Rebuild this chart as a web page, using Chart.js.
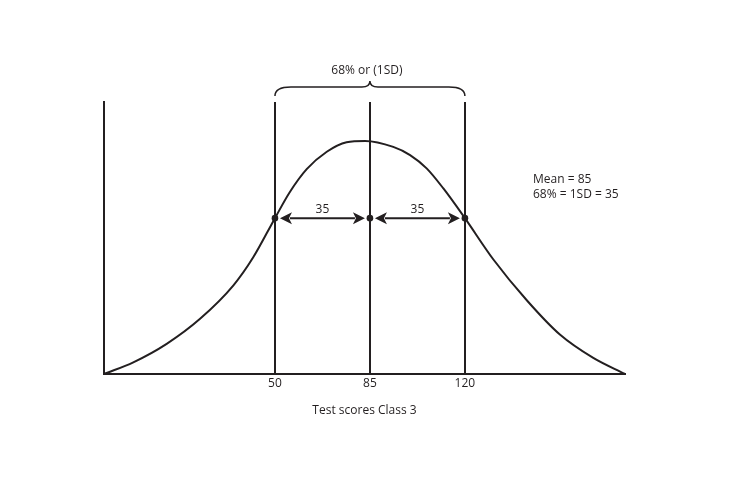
<!DOCTYPE html>
<html>
<head>
<meta charset="utf-8">
<script src="https://cdn.jsdelivr.net/npm/chart.js@4"></script>
<style>
  html, body { margin: 0; padding: 0; background: #ffffff; }
  #wrap { width: 750px; height: 500px; position: relative; }
</style>
</head>
<body>
<div id="wrap"><canvas id="c" width="750" height="500"></canvas></div>
<script>
// ---- data ----
const scoreX  = [-13, -2.2, 10.1, 22.4, 34.7, 42.0, 50, 55.5, 61.7, 69.1, 76.4, 83.2, 93.6, 99.8, 105.9, 112, 120, 130.5, 142.8, 155, 167.3, 179];
const density = [0, 4.3, 11.1, 20.3, 32.6, 42.9, 57.3, 66.9, 75.3, 81.7, 85.2, 85.7, 83.5, 80.5, 75.6, 68.3, 57.3, 42.1, 27.1, 14.5, 5.9, 0];
const tickValues = [50, 85, 120];
const markerX = [50, 85, 120];
const markerY = [57.3, 57.3, 57.3];
const spanLabels = ['35', '35'];
const braceLabel = '68% or (1SD)';
const infoLines = ['Mean = 85', '68% = 1SD = 35'];
const axisTitle = 'Test scores Class 3';

const INK = '#231f20';
const FONT = '"Open Sans", "Noto Sans", sans-serif';

const annotations = {
  id: 'annotations',
  beforeDatasetsDraw(chart) {
    const {ctx, chartArea, scales: {x}} = chart;
    ctx.save();
    ctx.strokeStyle = INK;
    ctx.lineWidth = 2;
    markerX.forEach(v => {
      const px = Math.round(x.getPixelForValue(v));
      ctx.beginPath();
      ctx.moveTo(px, chartArea.top);
      ctx.lineTo(px, chartArea.bottom);
      ctx.stroke();
    });
    ctx.restore();
  },
  afterDatasetsDraw(chart) {
    const {ctx, chartArea, scales: {x, y}} = chart;
    ctx.save();
    ctx.strokeStyle = INK;
    ctx.fillStyle = INK;
    const ay = y.getPixelForValue(markerY[0]);
    const gap = 5, headL = 12, headW = 6;
    for (let i = 0; i < markerX.length - 1; i++) {
      const x1 = x.getPixelForValue(markerX[i]) + gap;
      const x2 = x.getPixelForValue(markerX[i + 1]) - gap;
      ctx.lineWidth = 2;
      ctx.beginPath();
      ctx.moveTo(x1 + headL - 2, ay);
      ctx.lineTo(x2 - headL + 2, ay);
      ctx.stroke();
      ctx.beginPath();
      ctx.moveTo(x1, ay);
      ctx.lineTo(x1 + headL, ay - headW);
      ctx.lineTo(x1 + headL - 3, ay);
      ctx.lineTo(x1 + headL, ay + headW);
      ctx.closePath();
      ctx.fill();
      ctx.beginPath();
      ctx.moveTo(x2, ay);
      ctx.lineTo(x2 - headL, ay - headW);
      ctx.lineTo(x2 - headL + 3, ay);
      ctx.lineTo(x2 - headL, ay + headW);
      ctx.closePath();
      ctx.fill();
      ctx.font = '12px ' + FONT;
      ctx.textAlign = 'center';
      ctx.textBaseline = 'middle';
      ctx.fillText(spanLabels[i], (x1 + x2) / 2, ay - 9);
    }
    const bx1 = x.getPixelForValue(markerX[0]);
    const bx2 = x.getPixelForValue(markerX[2]);
    const bxm = x.getPixelForValue(markerX[1]);
    const yEnd = chartArea.top - 6, yLine = chartArea.top - 15, yTip = chartArea.top - 21;
    ctx.lineWidth = 1.5;
    ctx.beginPath();
    ctx.moveTo(bx1, yEnd);
    ctx.quadraticCurveTo(bx1, yLine, bx1 + 16, yLine);
    ctx.lineTo(bxm - 8, yLine);
    ctx.quadraticCurveTo(bxm, yLine, bxm, yTip);
    ctx.quadraticCurveTo(bxm, yLine, bxm + 8, yLine);
    ctx.lineTo(bx2 - 16, yLine);
    ctx.quadraticCurveTo(bx2, yLine, bx2, yEnd);
    ctx.stroke();
    ctx.font = '12px ' + FONT;
    ctx.textAlign = 'center';
    ctx.textBaseline = 'middle';
    ctx.fillText(braceLabel, bxm - 3, chartArea.top - 31);
    ctx.textAlign = 'left';
    ctx.fillText(infoLines[0], 533, 180);
    ctx.fillText(infoLines[1], 533, 195);
    ctx.restore();
  }
};

new Chart(document.getElementById('c'), {
  type: 'scatter',
  data: {
    datasets: [
      {
        type: 'line',
        data: scoreX.map((v, i) => ({x: v, y: density[i]})),
        borderColor: INK,
        borderWidth: 2,
        pointRadius: 0,
        cubicInterpolationMode: 'monotone',
        fill: false,
        clip: false
      },
      {
        type: 'scatter',
        data: markerX.map((v, i) => ({x: v, y: markerY[i]})),
        backgroundColor: INK,
        borderColor: INK,
        pointRadius: 3.3,
        borderWidth: 0
      }
    ]
  },
  options: {
    responsive: false,
    animation: false,
    events: [],
    layout: { padding: { left: 104, right: 125, top: 102, bottom: 78 } },
    plugins: { legend: { display: false }, tooltip: { enabled: false } },
    scales: {
      x: {
        type: 'linear',
        min: -13,
        max: 179,
        afterFit(s) { s.height = 48; },
        afterBuildTicks(s) { s.ticks = tickValues.map(v => ({value: v})); },
        grid: { display: false, drawTicks: false },
        border: { display: true, color: INK, width: 2 },
        ticks: { color: INK, padding: 2, font: { family: FONT, size: 12 }, autoSkip: false, maxRotation: 0 },
        title: { display: true, text: axisTitle, color: INK, font: { family: FONT, size: 12 }, padding: { top: 4, bottom: 4 } }
      },
      y: {
        type: 'linear',
        min: 0,
        max: 100,
        afterFit(s) { s.width = 0; },
        grid: { display: false, drawTicks: false },
        border: { display: true, color: INK, width: 2 },
        ticks: { display: false }
      }
    }
  },
  plugins: [annotations]
});
</script>
</body>
</html>
